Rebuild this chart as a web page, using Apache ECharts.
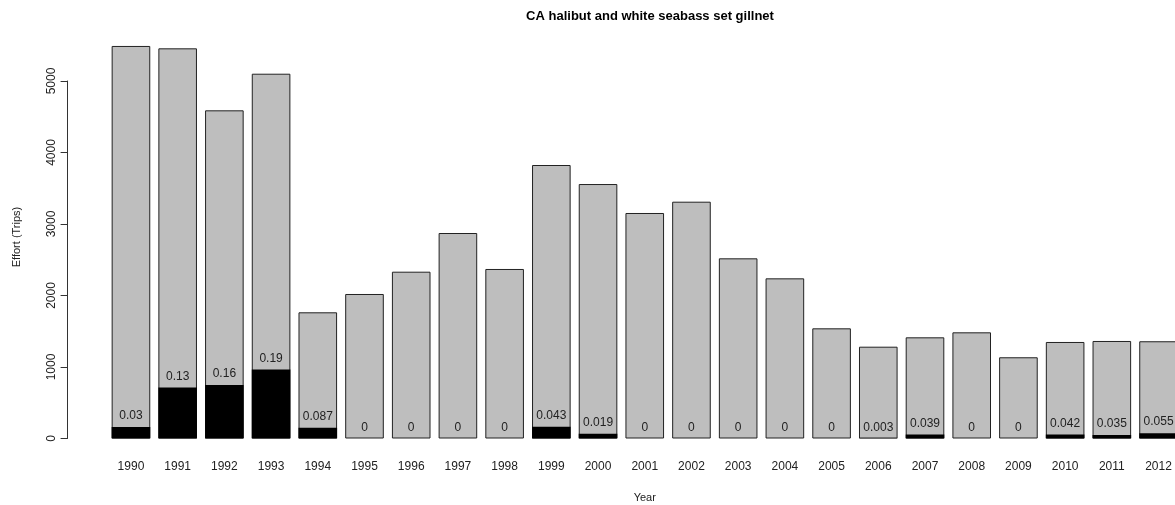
<!DOCTYPE html>
<html>
<head>
<meta charset="utf-8">
<script src="https://cdn.jsdelivr.net/npm/echarts@6/dist/echarts.min.js"></script>
<style>html,body{margin:0;padding:0;background:#fff}#c{width:1175px;height:505px}</style>
</head>
<body>
<div id="c"></div>
<script>
const years = ['1990','1991','1992','1993','1994','1995','1996','1997','1998','1999','2000','2001','2002','2003','2004','2005','2006','2007','2008','2009','2010','2011','2012'];
const totalTrips = [5490,5457,4590,5102,1765,2021,2333,2874,2371,3825,3559,3154,3312,2520,2240,1541,1284,1415,1485,1136,1350,1364,1360];
const observedTrips = [160,715,750,965,150,0,0,0,0,165,67,0,0,0,0,0,4,55,0,0,56,48,75];
const coverageLabels = ['0.03','0.13','0.16','0.19','0.087','0','0','0','0','0.043','0.019','0','0','0','0','0','0.003','0.039','0','0','0.042','0.035','0.055'];
const yTicks = [0,1000,2000,3000,4000,5000];

const font = 'Liberation Sans, Arial, sans-serif';
const chart = echarts.init(document.getElementById('c'), null, {renderer:'canvas'});
chart.setOption({
  animation:false,
  backgroundColor:'#ffffff',
  title:{
    text:'CA halibut and white seabass set gillnet',
    left:645, top:5, textAlign:'center',
    textStyle:{fontFamily:font,fontSize:13,fontWeight:'bold',color:'#000'}
  },
  graphic:[{
    type:'text', x:17, y:237, rotation:Math.PI/2,
    style:{text:'Effort (Trips)', fill:'#222', font:'11px '+font, textAlign:'center', textVerticalAlign:'middle'}
  }],
  grid:{left:107.6, top:81, height:357.5, width:1074.3, outerBoundsMode:'none', containLabel:false},
  xAxis:{
    type:'category', data:years,
    axisLine:{show:false}, axisTick:{show:false},
    axisLabel:{margin:22, color:'#222', fontFamily:font, fontSize:12, interval:0},
    name:'Year', nameLocation:'middle', nameGap:54,
    nameTextStyle:{color:'#222', fontFamily:font, fontSize:11}
  },
  yAxis:{
    type:'value', min:yTicks[0], max:yTicks[yTicks.length-1], interval:1000,
    offset:40,
    axisLine:{show:true, lineStyle:{color:'#333', width:1}},
    axisTick:{show:true, inside:false, length:7, lineStyle:{color:'#333'}},
    splitLine:{show:false},
    axisLabel:{rotate:90, margin:10, color:'#222', fontFamily:font, fontSize:12, formatter:v=>String(v)}
  },
  series:[
    {
      type:'bar', data:totalTrips, barWidth:38.6, barGap:'-100%', clip:false,
      itemStyle:{color:'#bebebe', borderColor:'#222', borderWidth:1},
      z:2
    },
    {
      type:'bar', data:observedTrips, barWidth:38.6, barGap:'-100%', clip:false,
      itemStyle:{color:'#000', borderWidth:0},
      label:{show:true, position:'top', distance:5, color:'#222', fontFamily:font, fontSize:12,
        formatter:p=>coverageLabels[p.dataIndex]},
      z:3
    }
  ]
});
</script>
</body>
</html>
